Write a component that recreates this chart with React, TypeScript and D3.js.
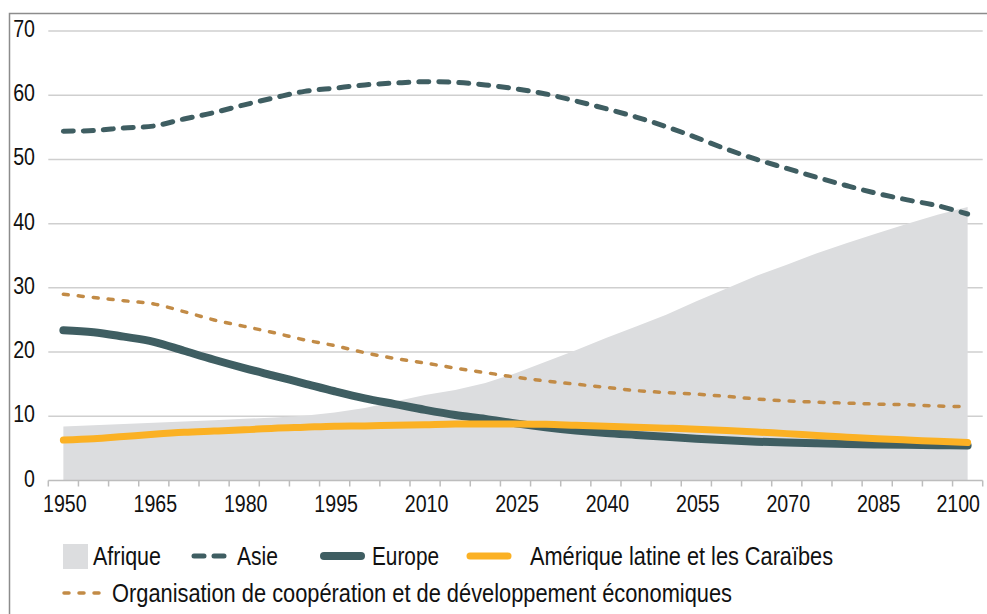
import React, { useRef, useEffect } from "react";
import * as d3 from "d3";

// Part de la population mondiale (%) par région, 1950-2100
const years = [
    1950, 1955, 1960, 1965, 1970, 1975, 1980, 1985, 1990, 1995, 2000, 2005, 2010, 2015, 2020, 2025,
    2030, 2035, 2040, 2045, 2050, 2055, 2060, 2065, 2070, 2075, 2080, 2085, 2090, 2095, 2100,
];
const tickYears = [1950, 1965, 1980, 1995, 2010, 2025, 2040, 2055, 2070, 2085, 2100];
const yTicks = [0, 10, 20, 30, 40, 50, 60, 70];

const afrique = [
    8.4, 8.6, 8.8, 9.0, 9.2, 9.4, 9.6, 9.8, 10.1, 10.6, 11.3, 12.3, 13.3, 14.1, 15.2, 16.7, 18.5, 20.3,
    22.2, 24.0, 25.8, 27.9, 29.9, 31.9, 33.6, 35.4, 37.0, 38.5, 40.0, 41.4, 42.6,
];
const asie = [
    54.4, 54.5, 54.9, 55.2, 56.3, 57.3, 58.5, 59.6, 60.6, 61.1, 61.6, 61.9, 62.1, 62.0, 61.6, 61.0, 60.2,
    59.1, 57.9, 56.6, 55.1, 53.4, 51.6, 50.0, 48.6, 47.2, 45.9, 44.7, 43.7, 42.8, 41.5,
];
const europe = [
    23.4, 23.1, 22.4, 21.6, 20.2, 18.8, 17.5, 16.3, 15.1, 13.9, 12.8, 11.9, 11.0, 10.2, 9.6, 8.9, 8.3, 7.8,
    7.4, 7.1, 6.8, 6.5, 6.25, 6.05, 5.9, 5.8, 5.7, 5.6, 5.55, 5.5, 5.45,
];
const amerique = [
    6.3, 6.5, 6.85, 7.2, 7.5, 7.7, 7.9, 8.15, 8.3, 8.45, 8.5, 8.6, 8.7, 8.8, 8.8, 8.8, 8.75, 8.6, 8.45, 8.3,
    8.15, 8.0, 7.8, 7.55, 7.3, 7.0, 6.75, 6.5, 6.3, 6.1, 5.9,
];
const ocde = [
    29.0, 28.5, 28.0, 27.5, 26.3, 25.0, 24.0, 23.0, 21.9, 21.0, 19.9, 19.0, 18.3, 17.5, 16.8, 16.1, 15.5,
    15.0, 14.5, 14.0, 13.7, 13.45, 13.1, 12.7, 12.4, 12.2, 12.05, 11.9, 11.8, 11.6, 11.5,
];

const FONT = "'Liberation Sans', Arial, sans-serif";
const GREY = "#dcdddf";
const TEAL = "#3f5e62";
const ORANGE = "#fbb124";
const BROWN = "#c28b46";

const App: React.FC = () => {
    const ref = useRef<SVGSVGElement>(null);

    useEffect(() => {
        const width = 987,
            height = 614;
        const svg = d3.select(ref.current).attr("width", width).attr("height", height);
        svg.selectAll("*").remove();

        const x = d3.scaleBand<number>().domain(years).range([48.3, 982.7]).paddingInner(0);
        const cx = (yr: number) => (x(yr) as number) + x.bandwidth() / 2;
        const y = d3.scaleLinear().domain([0, 70]).range([480.5, 31]);

        // frame
        svg.append("path")
            .attr("d", `M9.5,${height} V13.5 H${width}`)
            .attr("fill", "none")
            .attr("stroke", "#8c8c8c")
            .attr("stroke-width", 1.5);

        // gridlines
        svg.append("g")
            .selectAll("line")
            .data(yTicks.slice(1))
            .enter()
            .append("line")
            .attr("x1", 48.3)
            .attr("x2", 982.7)
            .attr("y1", (d) => y(d))
            .attr("y2", (d) => y(d))
            .attr("stroke", "#cfcfcf")
            .attr("stroke-width", 1.5);

        // Afrique area
        const area = d3
            .area<number>()
            .x((_, i) => cx(years[i]))
            .y0(y(0))
            .y1((d) => y(d));
        svg.append("path").datum(afrique).attr("d", area).attr("fill", GREY);

        // x axis line and ticks
        svg.append("line")
            .attr("x1", 48.3)
            .attr("x2", 982.7)
            .attr("y1", y(0))
            .attr("y2", y(0))
            .attr("stroke", "#bdbdbd")
            .attr("stroke-width", 1.5);
        const bounds = years.map((yr) => x(yr) as number).concat([982.7]);
        svg.append("g")
            .selectAll("line")
            .data(bounds)
            .enter()
            .append("line")
            .attr("x1", (d) => d)
            .attr("x2", (d) => d)
            .attr("y1", y(0))
            .attr("y2", y(0) + 6)
            .attr("stroke", "#bdbdbd")
            .attr("stroke-width", 1.5);

        // narrow font look: squeeze Liberation Sans with textLength
        const digitW = 10.9;

        // y labels
        svg.append("g")
            .selectAll("text")
            .data(yTicks)
            .enter()
            .append("text")
            .attr("x", 35)
            .attr("y", (d) => y(d) + 6)
            .attr("text-anchor", "end")
            .attr("textLength", (d) => String(d).length * digitW)
            .attr("lengthAdjust", "spacingAndGlyphs")
            .style("font-family", FONT)
            .style("font-size", "24px")
            .attr("fill", "#111")
            .text((d) => d);

        // x labels (last one pulled in so it stays inside the frame)
        svg.append("g")
            .selectAll("text")
            .data(tickYears)
            .enter()
            .append("text")
            .attr("x", (d) => (cx(d) + 22 > 982 ? 980 : cx(d) + 1.5))
            .attr("y", 512)
            .attr("text-anchor", (d) => (cx(d) + 22 > 982 ? "end" : "middle"))
            .attr("textLength", 4 * digitW)
            .attr("lengthAdjust", "spacingAndGlyphs")
            .style("font-family", FONT)
            .style("font-size", "24px")
            .attr("fill", "#111")
            .text((d) => d);

        const line = d3
            .line<number>()
            .x((_, i) => cx(years[i]))
            .y((d) => y(d))
            .curve(d3.curveCatmullRom.alpha(0.5));

        const series = [
            { data: ocde, color: BROWN, w: 3.5, dash: "5 10" },
            { data: asie, color: TEAL, w: 5, dash: "10 10" },
            { data: europe, color: TEAL, w: 8, dash: null },
            { data: amerique, color: ORANGE, w: 7, dash: null },
        ];
        series.forEach((s) => {
            svg.append("path")
                .datum(s.data)
                .attr("d", line)
                .attr("fill", "none")
                .attr("stroke", s.color)
                .attr("stroke-width", s.w)
                .attr("stroke-linecap", "round")
                .attr("stroke-linejoin", "round")
                .attr("stroke-dasharray", s.dash);
        });

        // legend
        const leg = svg.append("g").style("font-family", FONT).style("font-size", "25px").attr("fill", "#111");
        const label = (tx: number, ty: number, w: number, t: string) =>
            leg.append("text")
                .attr("x", tx)
                .attr("y", ty)
                .attr("textLength", w)
                .attr("lengthAdjust", "spacingAndGlyphs")
                .text(t);

        leg.append("rect").attr("x", 63).attr("y", 544).attr("width", 25).attr("height", 25).attr("fill", GREY);
        label(93, 565, 68, "Afrique");

        leg.append("line")
            .attr("x1", 194).attr("x2", 226).attr("y1", 556).attr("y2", 556)
            .attr("stroke", TEAL).attr("stroke-width", 5)
            .attr("stroke-linecap", "round").attr("stroke-dasharray", "10 10");
        label(237, 565, 41, "Asie");

        leg.append("line")
            .attr("x1", 324).attr("x2", 361).attr("y1", 556).attr("y2", 556)
            .attr("stroke", TEAL).attr("stroke-width", 8).attr("stroke-linecap", "round");
        label(372, 565, 67, "Europe");

        leg.append("line")
            .attr("x1", 470).attr("x2", 508).attr("y1", 556).attr("y2", 556)
            .attr("stroke", ORANGE).attr("stroke-width", 7).attr("stroke-linecap", "round");
        label(530, 565, 303, "Amérique latine et les Caraïbes");

        leg.append("line")
            .attr("x1", 64).attr("x2", 99).attr("y1", 593).attr("y2", 593)
            .attr("stroke", BROWN).attr("stroke-width", 3.5)
            .attr("stroke-linecap", "round").attr("stroke-dasharray", "5 10");
        label(112, 602, 620, "Organisation de coopération et de développement économiques");
    }, []);

    return (
        <div style={{ position: "absolute", left: 0, top: 0, background: "#fff" }}>
            <svg ref={ref} style={{ display: "block" }}></svg>
        </div>
    );
};

export default App;
